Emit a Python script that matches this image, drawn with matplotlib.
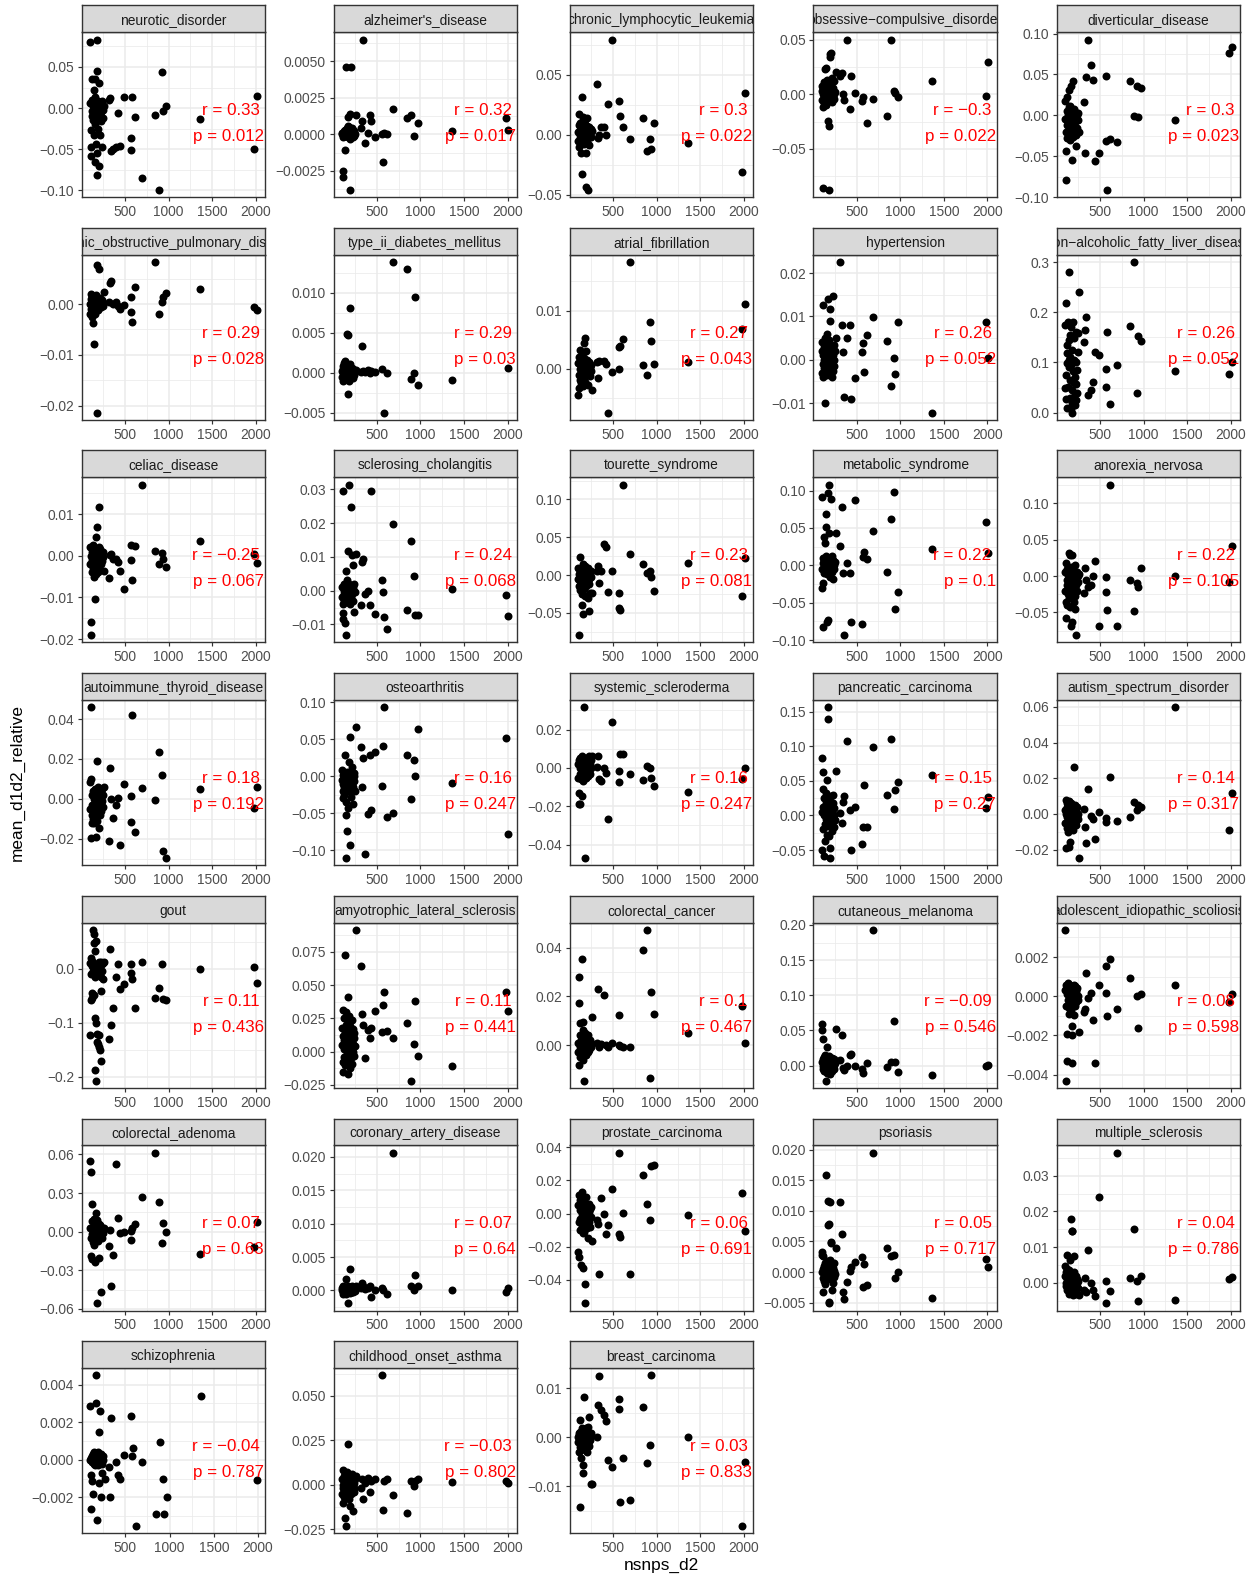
import numpy as np
import matplotlib
matplotlib.use("Agg")
import matplotlib.pyplot as plt

nan = np.nan

# nsnps_d2 values shared by every facet: a dense group of small SNP counts
# and a wider spread of larger counts
NSNPS_DENSE = [100, 105, 108, 110, 115, 118, 120, 125, 128, 130,
               135, 140, 142, 145, 150, 152, 155, 160, 162, 165,
               170, 172, 175, 180, 182, 185, 190, 195, 198, 200,
               205, 210, 212, 215, 220, 225, 228, 230, 235, 240,
               245, 250]
NSNPS_WIDE = [265, 315, 330, 340, 360, 395, 420, 440, 485, 565, 575, 585,
              620, 690, 845, 890, 925, 940, 970, 1360, 1985, 2010]

# mean_d1d2_relative per disease (dense part, wide part)
neurotic_disorder_dense = [0.006, 0.0806, -0.047, -0.027, -0.058, 0.035, -0.004, 0.010, -0.010, 0.002,
                           -0.015, 0.022, -0.033, 0.005, -0.006, 0.035, -0.020, 0.014, -0.066, -0.044,
                           0.000, -0.012, 0.0834, 0.045, -0.055, -0.082, 0.008, -0.025, -0.003, 0.030,
                           -0.070, -0.033, 0.004, -0.008, 0.001, -0.016, 0.003, -0.005, 0.009, -0.047,
                           -0.002, -0.012]
neurotic_disorder_wide = [0.003, 0.010, 0.0125, -0.052, -0.050, -0.047, -0.0065, -0.046, 0.0138, -0.051, -0.036,
                          0.013, -0.011, -0.0854, -0.009, -0.0996, 0.044, -0.003, 0.0024, -0.0138, -0.050, 0.015]

alzheimers_disease_dense = [0.0000, 0.0001, -0.0002, -0.0025, -0.0029, 0.0001, 0.0000, -0.0001, 0.0002, 0.0000,
                            -0.0011, 0.0001, 0.0003, 0.0046, -0.0001, 0.0000, 0.0002, 0.0004, 0.0000, 0.0012,
                            0.0006, -0.0002, 0.0003, 0.0000, 0.0005, 0.0001, -0.0003, -0.0038, 0.0014, 0.0002,
                            0.0000, 0.0046, 0.0004, -0.0001, 0.0001, 0.0003, -0.0002, 0.0000, 0.0001, 0.0002,
                            -0.0001, 0.0000]
alzheimers_disease_wide = [0.0013, 0.0004, 0.0009, 0.00648, -0.0006, 0.0001, 0.0013, 0.0009, -0.0002, 0.0000, -0.0019,
                           0.0001, 0.0000, 0.0017, 0.0011, 0.0013, -0.0001, nan, 0.0008, 0.0002, 0.0011, 0.0003]

chronic_lymphocytic_leukemia_dense = [0.002, -0.005, 0.008, 0.017, -0.010, 0.000, 0.004, -0.003, 0.010, -0.0155,
                                      0.006, -0.033, 0.001, 0.0318, -0.007, 0.012, 0.003, -0.002, 0.015, -0.008,
                                      0.005, 0.000, 0.009, -0.004, 0.013, 0.002, -0.044, -0.0155, 0.007, -0.006,
                                      0.0135, 0.001, -0.003, -0.046, 0.004, -0.001, 0.006, -0.009, 0.002, 0.000,
                                      0.005, -0.002]
chronic_lymphocytic_leukemia_wide = [0.003, 0.0425, -0.003, 0.000, 0.0066, 0.0066, 0.000, 0.0254, 0.0793, 0.0282, nan,
                                     0.0155, 0.0064, -0.0036, 0.0141, -0.0133, -0.0036, -0.0122, 0.0094, -0.0066, -0.031, 0.0345]

obsessive_compulsive_disorder_dense = [0.003, -0.005, 0.008, -0.086, 0.000, -0.012, 0.005, -0.002, 0.011, -0.008,
                                       0.002, 0.023, -0.004, 0.024, 0.006, -0.010, 0.001, 0.013, -0.003, 0.009,
                                       -0.006, 0.004, -0.0244, 0.000, -0.029, -0.0875, 0.007, 0.034, -0.001, 0.0369,
                                       0.0375, 0.010, 0.003, -0.007, 0.015, 0.002, -0.003, 0.006, 0.000, 0.012,
                                       -0.004, 0.002]
obsessive_compulsive_disorder_wide = [0.0207, 0.017, 0.0192, 0.000, -0.0052, 0.05, -0.0134, 0.0168, 0.0009, -0.0061, -0.0024,
                                      nan, -0.0262, -0.0046, -0.0198, 0.0503, 0.0034, 0.0015, -0.0021, 0.0125, -0.0015, 0.0293]

diverticular_disease_dense = [-0.005, 0.018, -0.079, -0.020, -0.0435, 0.005, -0.012, 0.022, -0.028, 0.000,
                              -0.008, 0.010, -0.025, 0.031, -0.015, 0.003, -0.030, 0.012, -0.004, -0.022,
                              0.0358, -0.010, -0.055, 0.006, -0.018, 0.000, 0.042, -0.026, 0.008, -0.013,
                              -0.002, -0.020, 0.004, -0.008, 0.001, -0.024, -0.037, 0.002, -0.016, 0.000,
                              -0.006, 0.003]
diverticular_disease_wide = [-0.020, 0.0167, -0.0455, 0.047, 0.0927, 0.061, 0.0435, -0.0557, -0.046, -0.031, 0.0483,
                             -0.091, -0.0289, -0.032, 0.0418, -0.0012, 0.036, -0.0024, 0.0337, -0.0057, 0.0768, 0.0837]

copd_dense = [0.000, -0.002, 0.001, -0.001, 0.002, -0.0025, 0.0005, -0.001, 0.0015, 0.000,
              -0.0038, 0.001, -0.0079, -0.0015, 0.0008, 0.000, -0.0005, 0.0012, -0.002, 0.0003,
              0.0018, -0.001, 0.000, 0.0076, -0.0213, 0.0006, -0.0012, 0.0002, 0.0009, -0.0007,
              0.0068, 0.0001, -0.0003, 0.0011, -0.0006, 0.0004, 0.000, -0.0002, 0.0007, 0.000,
              -0.0004, 0.0002]
copd_wide = [0.0024, 0.0003, 0.0042, 0.0045, 0.0001, 0.0003, -0.0004, -0.001, -0.0002, 0.0013, -0.0016,
             -0.0035, 0.0034, nan, 0.0082, -0.002, 0.0004, 0.0014, 0.0022, 0.0029, -0.0005, -0.0012]

type_ii_diabetes_dense = [0.0002, -0.0005, 0.0008, 0.0, -0.001, 0.0004, 0.0012, -0.0003, 0.0, 0.0006,
                          -0.0008, 0.0015, 0.0001, -0.0004, 0.0009, 0.0, -0.0006, 0.0003, 0.0048, 0.0047,
                          -0.0002, 0.0007, -0.0027, 0.0, 0.0004, -0.001, 0.0081, 0.0002, 0.0011, -0.0005,
                          0.0, 0.0003, -0.0002, 0.0006, 0.0001, -0.0007, 0.0, 0.0004, -0.0003, 0.0002,
                          0.0, 0.0001]
type_ii_diabetes_wide = [0.0003, 0.0001, 0.0033, 0.0002, 0.0001, 0.0003, 0.0000, 0.0002, 0.0001, 0.0005, nan,
                         -0.005, 0.0, 0.0138, 0.013, -0.0008, 0.000, 0.0095, -0.0015, -0.0009, nan, 0.0006]

atrial_fibrillation_dense = [0.001, -0.0045, -0.0033, 0.002, -0.001, 0.0033, 0.0, -0.0019, 0.0008, -0.0025,
                             0.0015, -0.0005, 0.0022, -0.0012, 0.0005, -0.003, 0.0012, 0.0, -0.0008, 0.0018,
                             0.0044, -0.0015, 0.0053, 0.0003, -0.0022, 0.001, 0.003, -0.0005, 0.0, 0.0016,
                             -0.001, 0.0007, -0.0028, 0.0004, 0.0011, -0.0006, 0.0, 0.0009, -0.0012, 0.0002,
                             0.0006, -0.0003]
atrial_fibrillation_wide = [-0.0036, 0.0011, -0.0016, 0.0014, nan, 0.0014, 0.0008, -0.0075, -0.0006, 0.0000, 0.0037,
                            0.0040, 0.0051, 0.0183, 0.0006, -0.001, 0.008, 0.0047, 0.0008, 0.0011, 0.0069, 0.0112]

hypertension_dense = [0.002, -0.003, 0.004, 0.0126, -0.001, 0.001, -0.004, 0.003, 0.0, -0.002,
                      0.005, -0.01, 0.001, -0.0025, 0.0035, 0.0, -0.0015, 0.006, 0.0008, -0.0035,
                      0.002, 0.0141, -0.001, 0.0045, 0.0, -0.003, 0.009, 0.0116, 0.0015, -0.002,
                      0.003, 0.0005, -0.004, 0.0025, -0.001, 0.0148, 0.001, -0.0025, 0.0035, 0.0,
                      -0.0015, 0.002]
hypertension_wide = [0.0049, 0.0225, 0.0081, 0.0018, -0.0085, 0.0051, 0.008, -0.009, -0.0043, 0.0018, 0.0038,
                     -0.0028, 0.0057, 0.0099, 0.0043, -0.006, 0.0005, -0.0034, 0.0087, -0.0122, 0.0087, 0.0003]

fatty_liver_dense = [0.05, 0.175, 0.028, 0.218, 0.075, 0.135, 0.01, 0.118, 0.098, 0.052,
                     0.18, 0.145, 0.09, 0.28, 0.105, 0.03, 0.155, 0.065, 0.11, 0.008,
                     0.17, 0.095, 0.045, 0.125, 0.02, 0.0, 0.18, 0.082, 0.06, 0.105,
                     0.148, 0.038, 0.07, 0.015, 0.1, 0.058, 0.16, 0.025, 0.085, 0.04,
                     0.158, 0.12]
fatty_liver_wide = [0.24, 0.14, 0.165, 0.19, 0.035, 0.045, 0.062, 0.12, 0.115, 0.052, 0.087,
                    0.16, 0.017, 0.094, 0.172, 0.30, 0.04, 0.153, 0.143, 0.083, 0.077, 0.10]

celiac_disease_dense = [0.002, -0.002, -0.0159, 0.0, -0.019, 0.0015, -0.004, 0.001, -0.001, 0.0025,
                        -0.003, 0.0005, -0.005, 0.0, 0.0018, -0.0015, 0.0008, -0.0025, -0.0105, 0.001,
                        -0.0045, 0.0046, 0.007, -0.0005, 0.0012, -0.002, 0.0003, -0.004, 0.002, -0.001,
                        0.0116, 0.0, -0.0035, 0.0015, -0.0008, 0.0006, -0.002, 0.001, -0.0012, 0.0004,
                        -0.0003, 0.0009]
celiac_disease_wide = [-0.0037, -0.0054, 0.0002, 0.0005, -0.0007, -0.0007, -0.0014, -0.0036, -0.0081, -0.001, 0.0025,
                       -0.0059, 0.0024, 0.0171, 0.0012, -0.0021, 0.0006, -0.0007, -0.0026, 0.0036, 0.0004, -0.0018]

sclerosing_cholangitis_dense = [-0.002, 0.001, -0.0066, 0.0295, -0.0083, -0.004, 0.002, -0.001, 0.0, -0.003,
                                0.0015, -0.0095, 0.0005, -0.002, 0.0057, -0.0131, -0.0005, 0.003, -0.0035, 0.001,
                                -0.0015, 0.0, 0.0116, 0.0314, -0.0025, 0.002, -0.001, 0.0005, -0.004, 0.0015,
                                0.0248, -0.002, 0.0, 0.0104, -0.001, 0.0075, 0.001, -0.003, 0.0, -0.0062,
                                0.002, -0.0005]
sclerosing_cholangitis_wide = [0.0108, -0.0042, 0.0086, 0.0094, -0.0009, -0.0002, -0.0042, 0.0294, -0.0068, 0.0032, -0.0003,
                               -0.0078, -0.0113, 0.0197, -0.0056, 0.0147, 0.0042, -0.0073, -0.0073, 0.0006, -0.0012, -0.0076]

tourette_syndrome_dense = [-0.005, 0.01, -0.079, -0.015, 0.002, -0.02, 0.0237, -0.008, 0.005, -0.012,
                           0.0, -0.025, 0.008, -0.039, -0.003, 0.015, -0.0518, -0.01, 0.004, -0.018,
                           0.002, -0.006, 0.012, -0.028, 0.0, -0.004, 0.007, -0.015, -0.001, 0.003,
                           -0.008, 0.01, -0.03, 0.001, -0.012, -0.0469, 0.005, -0.005, -0.0237, 0.002,
                           -0.002, 0.006]
tourette_syndrome_wide = [-0.0237, 0.005, 0.0123, -0.01, 0.005, 0.0408, 0.0368, -0.0228, 0.0048, -0.0237, -0.0434,
                          -0.0465, 0.1197, 0.0276, 0.0149, 0.0026, 0.0048, -0.0026, -0.0215, 0.0158, -0.0276, 0.0224]

metabolic_syndrome_dense = [-0.005, 0.0916, -0.03, 0.01, -0.024, 0.003, -0.0827, 0.006, -0.01, 0.0373,
                            0.0, 0.030, -0.008, 0.0507, 0.012, 0.068, -0.012, 0.004, -0.0751, 0.0,
                            0.008, -0.0729, 0.096, -0.004, 0.108, 0.0436, 0.002, -0.015, 0.01, -0.006,
                            0.0893, 0.005, -0.002, 0.013, -0.009, 0.0, 0.007, -0.0187, 0.003, -0.005,
                            0.001, 0.004]
metabolic_syndrome_wide = [0.0436, 0.0258, 0.0782, -0.0107, -0.0929, 0.0027, -0.0107, -0.0751, 0.0871, -0.0778, 0.0107,
                           0.0182, 0.0084, 0.0462, -0.0084, 0.0613, 0.0982, -0.0587, -0.0351, 0.0213, 0.0573, 0.0169]

anorexia_nervosa_dense = [0.005, -0.02, -0.057, 0.018, -0.035, -0.005, 0.01, -0.04, -0.012, 0.002,
                          -0.025, 0.032, -0.008, -0.03, 0.008, -0.018, 0.029, -0.002, -0.042, 0.012,
                          -0.01, -0.0685, -0.0626, 0.029, -0.022, 0.004, -0.015, 0.0, -0.035, 0.007,
                          -0.006, -0.028, 0.015, -0.045, -0.003, 0.002, -0.0808, -0.012, 0.005, -0.02,
                          0.0, -0.008]
anorexia_nervosa_wide = [0.0027, -0.0237, 0.0105, -0.005, -0.0146, -0.0123, 0.0, 0.021, -0.0685, -0.0009, -0.0224,
                         -0.0466, 0.1256, -0.0685, -0.0055, -0.048, -0.0091, -0.0155, 0.0105, 0.0, -0.0087, 0.0416]

autoimmune_thyroid_dense = [0.0082, -0.005, 0.046, -0.0197, 0.0099, -0.008, 0.002, -0.0119, -0.003, 0.004,
                            -0.01, 0.0, -0.006, 0.003, -0.012, -0.002, 0.005, -0.009, 0.001, -0.004,
                            -0.0194, 0.0, 0.019, -0.007, 0.002, -0.011, -0.001, 0.006, -0.005, -0.0147,
                            0.001, -0.003, 0.004, -0.008, 0.0, -0.002, 0.003, -0.006, 0.005, -0.001,
                            0.002, -0.004]
autoimmune_thyroid_wide = [0.0057, -0.0214, 0.0154, 0.0, -0.0094, -0.003, 0.0003, -0.0231, 0.0074, 0.0012, -0.0117,
                           0.0422, -0.0169, 0.0054, -0.0007, 0.0234, 0.012, -0.0264, -0.0295, 0.0049, -0.0047, 0.0059]

osteoarthritis_dense = [-0.005, 0.008, -0.02, 0.002, -0.03, -0.01, 0.005, -0.015, 0.0, -0.025,
                        0.029, -0.008, 0.003, -0.035, -0.0528, -0.1097, -0.0739, -0.004, 0.006, -0.0425,
                        -0.012, 0.001, -0.02, 0.0188, -0.006, 0.004, -0.0927, 0.0524, -0.018, 0.0,
                        -0.028, 0.007, -0.01, 0.012, -0.003, -0.038, 0.002, -0.015, 0.005, -0.007,
                        0.001, -0.02]
osteoarthritis_wide = [0.0663, 0.0394, -0.0148, 0.0246, -0.1049, -0.0506, 0.0282, -0.0461, 0.0322, -0.0134, 0.0403,
                       0.0931, -0.0551, -0.05, 0.029, -0.0313, 0.0224, 0.0, 0.0636, -0.009, 0.0515, -0.0783]

systemic_scleroderma_dense = [0.002, -0.005, -0.013, 0.004, -0.019, 0.0, -0.003, 0.005, -0.019, 0.001,
                              -0.006, 0.003, -0.002, 0.006, -0.0147, 0.0, -0.004, 0.002, -0.007, 0.004,
                              -0.001, 0.0317, -0.0468, 0.001, -0.003, 0.005, 0.0, -0.005, 0.002, -0.002,
                              0.004, -0.001, 0.003, -0.004, 0.0, 0.006, -0.002, 0.001, -0.003, 0.002,
                              0.0, 0.004]
systemic_scleroderma_wide = [0.006, 0.0005, 0.006, -0.006, -0.007, 0.0, -0.0026, -0.0268, 0.0238, -0.0017, -0.0073,
                             0.0074, 0.0074, -0.0033, -0.0063, 0.0009, 0.0, -0.0052, -0.0092, -0.0125, -0.006, 0.0]

pancreatic_carcinoma_dense = [0.005, 0.0831, -0.0498, 0.038, -0.02, 0.012, 0.0628, -0.0585, 0.0, 0.025,
                              -0.0367, 0.008, -0.012, 0.032, -0.005, 0.018, -0.028, 0.0517, 0.002, -0.015,
                              0.01, 0.1565, 0.1396, -0.008, 0.022, -0.03, 0.004, -0.0609, -0.0473, 0.015,
                              -0.01, 0.028, 0.0, -0.022, 0.007, 0.018, -0.004, 0.03, -0.016, 0.011,
                              0.0, -0.006]
pancreatic_carcinoma_wide = [0.0638, 0.0034, -0.0111, 0.0188, 0.0275, 0.1082, 0.0082, -0.0498, 0.0121, -0.0411, -0.016,
                             0.0444, -0.016, 0.099, 0.03, 0.1111, 0.0092, 0.0362, 0.0478, 0.0589, 0.0106, 0.0261]

autism_spectrum_disorder_dense = [0.002, -0.005, 0.008, -0.0193, 0.0, -0.008, 0.004, -0.002, 0.006, -0.01,
                                  0.001, -0.004, 0.007, -0.0183, -0.001, 0.003, -0.006, 0.005, -0.0155, 0.0,
                                  -0.003, 0.006, -0.007, 0.002, -0.001, 0.004, -0.009, 0.0, 0.003, -0.005,
                                  0.0262, 0.001, -0.002, 0.005, -0.004, 0.0, 0.002, -0.006, 0.004, -0.001,
                                  0.0, -0.003]
autism_spectrum_disorder_wide = [-0.0245, 0.0026, -0.0071, -0.0161, 0.0142, -0.0011, -0.003, -0.014, 0.0013, -0.0043, -0.0024,
                                 nan, 0.0204, -0.0039, -0.0019, 0.0069, 0.0019, 0.005, 0.0037, 0.0598, -0.009, 0.0116]

gout_dense = [0.01, -0.123, -0.058, 0.02, -0.01, -0.055, 0.005, -0.045, 0.015, -0.005,
              0.071, 0.0636, -0.048, 0.002, 0.0465, -0.1865, 0.0318, -0.015, -0.0914, -0.2067,
              -0.1, 0.0514, -0.12, 0.008, -0.135, -0.01, -0.14, 0.0, -0.122, 0.012,
              -0.144, -0.003, -0.15, 0.005, -0.042, -0.17, 0.0128, -0.015, -0.005, 0.008,
              -0.02, 0.01]
gout_wide = [0.0128, -0.129, 0.0361, -0.1049, -0.0728, -0.0159, 0.0086, -0.0373, -0.0281, 0.0086, -0.008,
             -0.019, -0.0728, 0.0128, -0.0544, -0.0361, 0.008, -0.0557, -0.0587, 0.0, 0.0024, -0.0263]

amyotrophic_lateral_sclerosis_dense = [0.005, 0.018, -0.008, 0.0313, 0.012, -0.015, 0.002, 0.025, -0.004, 0.009,
                                       0.015, -0.01, 0.0725, 0.004, 0.02, 0.03, -0.006, 0.011, 0.0, -0.017,
                                       0.022, 0.0413, 0.007, -0.002, 0.016, 0.027, -0.012, 0.003, 0.019, 0.008,
                                       -0.005, 0.013, 0.001, 0.024, -0.009, 0.006, 0.017, 0.0, 0.01, -0.003,
                                       0.014, 0.004]
amyotrophic_lateral_sclerosis_wide = [0.0913, 0.0645, 0.028, 0.02, -0.0045, 0.0163, 0.01, 0.0175, 0.0305, 0.0145, 0.0348,
                                      0.045, 0.0158, 0.0105, 0.0213, -0.0218, 0.0055, 0.0383, -0.003, -0.0108, 0.045, 0.0308]

colorectal_cancer_dense = [0.001, -0.003, 0.028, 0.0171, -0.0082, 0.004, -0.001, 0.0091, -0.005, 0.002,
                           0.0, -0.004, 0.0351, 0.003, -0.002, 0.006, -0.006, 0.001, 0.0093, -0.003,
                           0.002, -0.0146, 0.0, 0.005, -0.002, 0.001, -0.004, 0.003, 0.0, -0.001,
                           0.002, -0.003, 0.004, 0.0, -0.002, 0.001, 0.0, -0.001, 0.002, 0.0,
                           -0.001, 0.001]
colorectal_cancer_wide = [0.0116, 0.001, 0.023, -0.001, 0.0005, 0.0207, 0.0, -0.001, 0.001, 0.0, 0.0123,
                          -0.0005, -0.0008, -0.0008, 0.039, 0.0471, -0.0137, 0.0219, 0.0127, 0.005, 0.0161, 0.0007]

cutaneous_melanoma_dense = [0.0506, 0.0587, 0.005, -0.005, 0.0378, 0.01, 0.0, -0.008, 0.012, 0.002,
                            -0.003, 0.008, 0.015, -0.0213, 0.0, 0.005, -0.01, 0.027, 0.003, -0.006,
                            0.01, 0.001, -0.0109, 0.006, -0.002, 0.013, 0.0, -0.0123, 0.004, 0.008,
                            -0.004, 0.002, 0.011, -0.007, 0.0, 0.005, -0.002, 0.003, 0.009, -0.005,
                            0.001, 0.004]
cutaneous_melanoma_wide = [0.0515, 0.008, 0.0435, -0.0028, -0.0062, 0.0, 0.0151, 0.0165, 0.0, -0.0047, -0.0109,
                           nan, 0.0033, 0.1925, -0.0014, 0.0047, 0.0632, 0.0047, -0.009, -0.0132, -0.0005, 0.001]

idiopathic_scoliosis_dense = [0.0003, 0.00337, -0.0043, -0.0005, 0.0006, -0.0019, 0.0001, -0.0033, 0.0004, -0.0002,
                              0.0007, -0.0006, 0.0002, -0.0009, 0.0005, 0.0, -0.0003, 0.0006, -0.0001, 0.0004,
                              -0.0007, 0.0002, -0.0034, -0.002, 0.0, -0.0015, 0.0003, -0.0004, 0.0006, -0.00095,
                              0.0001, -0.0002, 0.0005, -0.0005, 0.0, 0.0003, -0.0003, 0.0002, -0.0001, 0.0004,
                              0.0, -0.0002]
idiopathic_scoliosis_wide = [-0.0018, -0.0008, -0.00064, 0.0012, -0.0001, 0.00015, -0.0012, -0.0034, 0.00058, 0.00015, 0.00156,
                             -0.001, 0.0019, -0.00064, 0.00093, nan, 0.0, -0.0016, 0.0001, 0.00058, -0.0003, 0.0001]

colorectal_adenoma_dense = [0.003, 0.0551, -0.0186, 0.0466, -0.005, -0.0215, 0.008, -0.002, 0.0212, 0.0,
                            -0.008, 0.005, -0.003, 0.01, -0.01, 0.002, -0.006, 0.007, -0.0233, 0.001,
                            0.0142, -0.004, -0.0556, 0.004, -0.001, 0.009, -0.007, 0.0, 0.003, -0.0202,
                            0.006, -0.003, 0.001, 0.005, -0.0466, -0.002, 0.004, 0.0, -0.005, 0.002,
                            0.001, -0.001]
colorectal_adenoma_wide = [0.003, -0.0111, 0.0013, -0.0422, -0.0181, 0.0525, 0.0109, -0.0013, -0.0005, 0.0005, -0.0065,
                           0.003, 0.006, 0.0269, 0.0613, 0.0233, -0.009, 0.0065, -0.0005, -0.0173, -0.0116, 0.0072]

coronary_artery_disease_dense = [0.0, 0.0004, -0.0003, 0.0002, -0.0005, 0.0006, 0.0, -0.0002, 0.0003, 0.0001,
                                 -0.0004, 0.0005, 0.0, -0.0006, 0.0002, 0.0017, -0.0001, 0.0004, 0.0, -0.0003,
                                 0.0007, 0.0001, -0.0019, 0.0003, -0.0002, 0.0, 0.0005, 0.0032, -0.0004, 0.0002,
                                 0.0, -0.0001, 0.0006, 0.0001, -0.0003, 0.0, 0.0004, -0.0002, 0.0001, 0.0003,
                                 0.0, -0.0001]
coronary_artery_disease_wide = [0.0006, 0.0003, 0.0011, 0.0006, 0.0002, 0.0003, 0.0006, -0.001, 0.0001, 0.0004, 0.0001,
                                nan, -0.0006, 0.0206, nan, 0.0007, 0.0001, 0.0023, 0.0006, 0.0, -0.0003, 0.0003]

prostate_carcinoma_dense = [0.005, -0.023, 0.011, -0.026, -0.005, 0.008, -0.01, 0.002, -0.003, 0.006,
                            -0.031, 0.013, -0.008, 0.0, 0.009, -0.004, 0.003, -0.012, -0.033, 0.007,
                            -0.002, -0.011, -0.0424, -0.054, 0.004, -0.007, 0.01, -0.001, -0.006, 0.002,
                            -0.009, 0.005, -0.015, 0.0, -0.003, 0.006, -0.005, 0.001, -0.008, 0.003,
                            -0.002, 0.004]
prostate_carcinoma_wide = [-0.0166, -0.004, -0.006, -0.0364, 0.0094, 0.0, -0.0126, -0.007, 0.015, 0.0366, -0.0126,
                           -0.014, 0.0006, -0.0364, 0.0235, 0.0058, -0.0036, 0.0285, 0.029, -0.001, 0.0124, -0.0106]

psoriasis_dense = [0.0033, 0.0, 0.0028, -0.001, 0.0026, 0.0005, -0.0032, -0.0015, 0.001, 0.0,
                   -0.0005, 0.0015, -0.002, 0.0159, 0.0008, -0.001, 0.0003, 0.0018, -0.0007, 0.0,
                   0.0012, 0.0116, 0.0077, -0.0049, -0.0051, 0.0079, 0.0115, 0.0004, -0.0012, 0.002,
                   0.0049, 0.0047, -0.0029, 0.0001, 0.001, -0.0018, 0.0006, 0.0, -0.0008, 0.0014,
                   0.0002, -0.0004]
psoriasis_wide = [0.004, 0.0115, 0.0063, -0.0033, -0.0044, -0.0016, 0.0002, 0.0008, 0.0016, 0.0024, -0.0024,
                  0.0013, -0.0022, 0.0195, 0.004, 0.0026, 0.0028, -0.0009, 0.0, -0.0043, 0.0021, 0.0009]

multiple_sclerosis_dense = [0.002, 0.0048, -0.001, 0.003, 0.0, 0.0078, -0.002, 0.001, 0.004, -0.0015,
                            0.0005, 0.002, -0.003, 0.0, 0.0035, -0.001, 0.0015, 0.0064, -0.0025, 0.0,
                            0.002, 0.0178, 0.0144, 0.0144, -0.001, 0.0025, 0.0, -0.0035, 0.001, 0.003,
                            0.0075, -0.002, 0.0005, 0.0015, -0.001, 0.002, 0.0, -0.003, 0.001, 0.0,
                            -0.0015, 0.0005]
multiple_sclerosis_wide = [-0.0034, -0.002, 0.0013, -0.0025, 0.0092, 0.0, -0.002, -0.0038, 0.024, -0.0057, 0.0004,
                           nan, -0.0024, 0.0364, 0.0013, 0.015, 0.0006, -0.005, 0.0018, -0.0049, 0.0011, 0.0015]

schizophrenia_dense = [0.0, 0.00284, -0.0026, -0.0008, 0.0001, -0.00115, 0.0002, -0.0001, 0.0003, 0.0,
                       -0.0018, 0.0001, -0.0002, 0.0004, 0.0, -0.0003, 0.0002, 0.0001, -0.0001, 0.0045,
                       0.0003, 0.003, 0.0, -0.0002, -0.0032, 0.0004, 0.0001, -0.0003, 0.0, -0.00124,
                       0.00146, 0.0002, -0.0001, 0.0026, -0.002, 0.0, 0.0003, -0.0007, 0.0001, -0.0002,
                       0.0, 0.0002]
schizophrenia_wide = [-0.001, -0.0004, -0.002, 0.00225, nan, -0.0001, -0.00083, -0.001, 0.00027, 0.00234, 0.00021,
                      0.00062, -0.0035, -0.00014, -0.0029, 0.00094, -0.001, -0.0029, -0.002, 0.00337, -0.0011, nan]

childhood_onset_asthma_dense = [0.003, -0.005, 0.008, -0.002, 0.0, -0.0105, 0.005, -0.007, 0.002, -0.003,
                                0.006, -0.019, 0.001, -0.004, 0.004, -0.023, 0.0, -0.002, 0.007, -0.006,
                                0.003, 0.0227, -0.001, 0.005, -0.008, 0.001, -0.003, 0.004, -0.012, 0.0,
                                0.002, -0.005, 0.006, -0.001, 0.003, -0.015, 0.0, 0.002, -0.004, 0.001,
                                -0.002, 0.003]
childhood_onset_asthma_wide = [0.005, -0.002, 0.003, -0.008, 0.001, 0.004, -0.004, 0.002, 0.003, 0.0616, -0.0145,
                               0.002, 0.003, -0.006, -0.016, 0.002, -0.001, 0.002, 0.003, 0.0017, 0.002, 0.001]

breast_carcinoma_dense = [0.0, -0.001, 0.001, -0.0029, 0.0005, -0.0142, 0.0035, -0.002, 0.0012, 0.0,
                          -0.0043, 0.0008, -0.001, 0.002, -0.0015, 0.0003, -0.0056, 0.001, -0.0073, 0.0083,
                          -0.0005, 0.0018, -0.0025, 0.0, 0.0015, -0.001, 0.002, -0.002, 0.0005, -0.003,
                          0.001, 0.0, -0.0012, 0.0022, -0.0008, 0.0004, -0.0018, 0.0042, 0.0, -0.0005,
                          0.001, -0.0095]
breast_carcinoma_wide = [-0.0095, 0.0, 0.0066, 0.0126, 0.0056, 0.0046, 0.0033, -0.0046, -0.006, 0.0058, 0.0079,
                         -0.0131, -0.0041, -0.0127, 0.0062, -0.0053, -0.0016, 0.0127, nan, 0.0, -0.018, -0.0051]

# facet titles, in panel order
DISEASES = ["neurotic_disorder", "alzheimer's_disease", "chronic_lymphocytic_leukemia",
            "obsessive\u2212compulsive_disorder", "diverticular_disease",
            "chronic_obstructive_pulmonary_disease", "type_ii_diabetes_mellitus", "atrial_fibrillation",
            "hypertension", "non\u2212alcoholic_fatty_liver_disease",
            "celiac_disease", "sclerosing_cholangitis", "tourette_syndrome", "metabolic_syndrome",
            "anorexia_nervosa",
            "autoimmune_thyroid_disease", "osteoarthritis", "systemic_scleroderma", "pancreatic_carcinoma",
            "autism_spectrum_disorder",
            "gout", "amyotrophic_lateral_sclerosis", "colorectal_cancer", "cutaneous_melanoma",
            "adolescent_idiopathic_scoliosis",
            "colorectal_adenoma", "coronary_artery_disease", "prostate_carcinoma", "psoriasis",
            "multiple_sclerosis",
            "schizophrenia", "childhood_onset_asthma", "breast_carcinoma"]

DENSE = [neurotic_disorder_dense, alzheimers_disease_dense, chronic_lymphocytic_leukemia_dense,
         obsessive_compulsive_disorder_dense, diverticular_disease_dense,
         copd_dense, type_ii_diabetes_dense, atrial_fibrillation_dense, hypertension_dense, fatty_liver_dense,
         celiac_disease_dense, sclerosing_cholangitis_dense, tourette_syndrome_dense, metabolic_syndrome_dense,
         anorexia_nervosa_dense,
         autoimmune_thyroid_dense, osteoarthritis_dense, systemic_scleroderma_dense, pancreatic_carcinoma_dense,
         autism_spectrum_disorder_dense,
         gout_dense, amyotrophic_lateral_sclerosis_dense, colorectal_cancer_dense, cutaneous_melanoma_dense,
         idiopathic_scoliosis_dense,
         colorectal_adenoma_dense, coronary_artery_disease_dense, prostate_carcinoma_dense, psoriasis_dense,
         multiple_sclerosis_dense,
         schizophrenia_dense, childhood_onset_asthma_dense, breast_carcinoma_dense]

WIDE = [neurotic_disorder_wide, alzheimers_disease_wide, chronic_lymphocytic_leukemia_wide,
        obsessive_compulsive_disorder_wide, diverticular_disease_wide,
        copd_wide, type_ii_diabetes_wide, atrial_fibrillation_wide, hypertension_wide, fatty_liver_wide,
        celiac_disease_wide, sclerosing_cholangitis_wide, tourette_syndrome_wide, metabolic_syndrome_wide,
        anorexia_nervosa_wide,
        autoimmune_thyroid_wide, osteoarthritis_wide, systemic_scleroderma_wide, pancreatic_carcinoma_wide,
        autism_spectrum_disorder_wide,
        gout_wide, amyotrophic_lateral_sclerosis_wide, colorectal_cancer_wide, cutaneous_melanoma_wide,
        idiopathic_scoliosis_wide,
        colorectal_adenoma_wide, coronary_artery_disease_wide, prostate_carcinoma_wide, psoriasis_wide,
        multiple_sclerosis_wide,
        schizophrenia_wide, childhood_onset_asthma_wide, breast_carcinoma_wide]

R_LABELS = ["0.33", "0.32", "0.3", "\u22120.3", "0.3", "0.29", "0.29", "0.27", "0.26", "0.26",
            "\u22120.25", "0.24", "0.23", "0.22", "0.22", "0.18", "0.16", "0.16", "0.15", "0.14",
            "0.11", "0.11", "0.1", "\u22120.09", "0.08", "0.07", "0.07", "0.06", "0.05", "0.04",
            "\u22120.04", "\u22120.03", "0.03"]
P_LABELS = ["0.012", "0.017", "0.022", "0.022", "0.023", "0.028", "0.03", "0.043", "0.052", "0.052",
            "0.067", "0.068", "0.081", "0.1", "0.105", "0.192", "0.247", "0.247", "0.27", "0.317",
            "0.436", "0.441", "0.467", "0.546", "0.598", "0.63", "0.64", "0.691", "0.717", "0.786",
            "0.787", "0.802", "0.833"]

X_TICKS = [500, 1000, 1500, 2000]
Y_TICKS = [["-0.10", "-0.05", "0.00", "0.05"],
           ["-0.0025", "0.0000", "0.0025", "0.0050"],
           ["-0.05", "0.00", "0.05"],
           ["-0.05", "0.00", "0.05"],
           ["-0.10", "-0.05", "0.00", "0.05", "0.10"],
           ["-0.02", "-0.01", "0.00"],
           ["-0.005", "0.000", "0.005", "0.010"],
           ["0.00", "0.01"],
           ["-0.01", "0.00", "0.01", "0.02"],
           ["0.0", "0.1", "0.2", "0.3"],
           ["-0.02", "-0.01", "0.00", "0.01"],
           ["-0.01", "0.00", "0.01", "0.02", "0.03"],
           ["-0.05", "0.00", "0.05", "0.10"],
           ["-0.10", "-0.05", "0.00", "0.05", "0.10"],
           ["-0.05", "0.00", "0.05", "0.10"],
           ["-0.02", "0.00", "0.02", "0.04"],
           ["-0.10", "-0.05", "0.00", "0.05", "0.10"],
           ["-0.04", "-0.02", "0.00", "0.02"],
           ["-0.05", "0.00", "0.05", "0.10", "0.15"],
           ["-0.02", "0.00", "0.02", "0.04", "0.06"],
           ["-0.2", "-0.1", "0.0"],
           ["-0.025", "0.000", "0.025", "0.050", "0.075"],
           ["0.00", "0.02", "0.04"],
           ["0.00", "0.05", "0.10", "0.15", "0.20"],
           ["-0.004", "-0.002", "0.000", "0.002"],
           ["-0.06", "-0.03", "0.00", "0.03", "0.06"],
           ["0.000", "0.005", "0.010", "0.015", "0.020"],
           ["-0.04", "-0.02", "0.00", "0.02", "0.04"],
           ["-0.005", "0.000", "0.005", "0.010", "0.015", "0.020"],
           ["0.00", "0.01", "0.02", "0.03"],
           ["-0.002", "0.000", "0.002", "0.004"],
           ["-0.025", "0.000", "0.025", "0.050"],
           ["-0.01", "0.00", "0.01"]]

# ---------------------------------------------------------------- layout
plt.rcParams["font.family"] = ["Liberation Sans", "DejaVu Sans"]
W_PX, H_PX = 1257, 1579
fig = plt.figure(figsize=(W_PX / 100, H_PX / 100), dpi=100)
fig.patch.set_facecolor("white")

COL_LEFT = [81.7, 333.5, 569.7, 813.4, 1056.7]
ROW_TOP = [32.0, 254.7, 477.0, 699.7, 922.7, 1145.3, 1367.7]
PANEL_W, PANEL_H, STRIP_H = 183.3, 165.4, 26.8

GRID = "#EBEBEB"
FRAME = "#333333"
TICK_TXT = "#4D4D4D"


def expanded(lo, hi, frac=0.05):
    span = hi - lo
    return lo - span * frac, hi + span * frac


def minor_breaks(major, lo, hi):
    step = major[1] - major[0]
    cand = [major[0] - step / 2] + [m + step / 2 for m in major]
    return [c for c in cand if lo <= c <= hi]


def fmt(s):
    return s.replace("-", "\u2212")


for i, name in enumerate(DISEASES):
    row, col = divmod(i, 5)
    left, top = COL_LEFT[col], ROW_TOP[row]

    ax = fig.add_axes([left / W_PX, 1 - (top + PANEL_H) / H_PX, PANEL_W / W_PX, PANEL_H / H_PX])
    strip = fig.add_axes([left / W_PX, 1 - top / H_PX, PANEL_W / W_PX, STRIP_H / H_PX])

    x = np.array(NSNPS_DENSE + NSNPS_WIDE, dtype=float)
    y = np.array(DENSE[i] + WIDE[i], dtype=float)
    ok = ~np.isnan(y)
    x, y = x[ok], y[ok]

    xlo, xhi = expanded(x.min(), x.max())
    ylo, yhi = expanded(y.min(), y.max())
    ax.set_xlim(xlo, xhi)
    ax.set_ylim(ylo, yhi)

    yt_labels = Y_TICKS[i]
    yt = [float(t) for t in yt_labels]
    ax.set_xticks(X_TICKS, [str(t) for t in X_TICKS])
    ax.set_yticks(yt, [fmt(t) for t in yt_labels])
    ax.set_xticks(minor_breaks(X_TICKS, xlo, xhi), minor=True)
    ax.set_yticks(minor_breaks(yt, ylo, yhi), minor=True)

    ax.grid(which="major", color=GRID, linewidth=1.1)
    ax.grid(which="minor", color=GRID, linewidth=0.55)
    ax.set_axisbelow(True)

    ax.tick_params(which="major", direction="out", length=3.2, width=0.85, color=FRAME,
                   labelsize=9.9, labelcolor=TICK_TXT, pad=2.3)
    ax.tick_params(which="minor", length=0)
    for sp in ax.spines.values():
        sp.set_color(FRAME)
        sp.set_linewidth(1.0)

    ax.scatter(x, y, s=33, color="black", linewidths=0, zorder=3)

    ax.text(0.972, 0.499, "r = " + R_LABELS[i], transform=ax.transAxes, ha="right", va="baseline",
            color="red", fontsize=12.2, clip_on=True, zorder=4)
    ax.text(0.995, 0.34, "p = " + P_LABELS[i], transform=ax.transAxes, ha="right", va="baseline",
            color="red", fontsize=12.2, clip_on=True, zorder=4)

    strip.set_facecolor("#D9D9D9")
    strip.set_xticks([])
    strip.set_yticks([])
    for sp in strip.spines.values():
        sp.set_color(FRAME)
        sp.set_linewidth(1.0)
    strip.text(0.5, 0.5, name, transform=strip.transAxes, ha="center", va="center_baseline",
               fontsize=9.9, color="#1A1A1A", clip_on=True)

fig.text(661 / W_PX, 1 - 1565 / H_PX, "nsnps_d2", ha="center", va="center", fontsize=12.4, color="black")
fig.text(17 / W_PX, 1 - 783 / H_PX, "mean_d1d2_relative", ha="center", va="center", rotation=90,
         fontsize=12.4, color="black")

fig.savefig("out.png", dpi=100, facecolor="white")
